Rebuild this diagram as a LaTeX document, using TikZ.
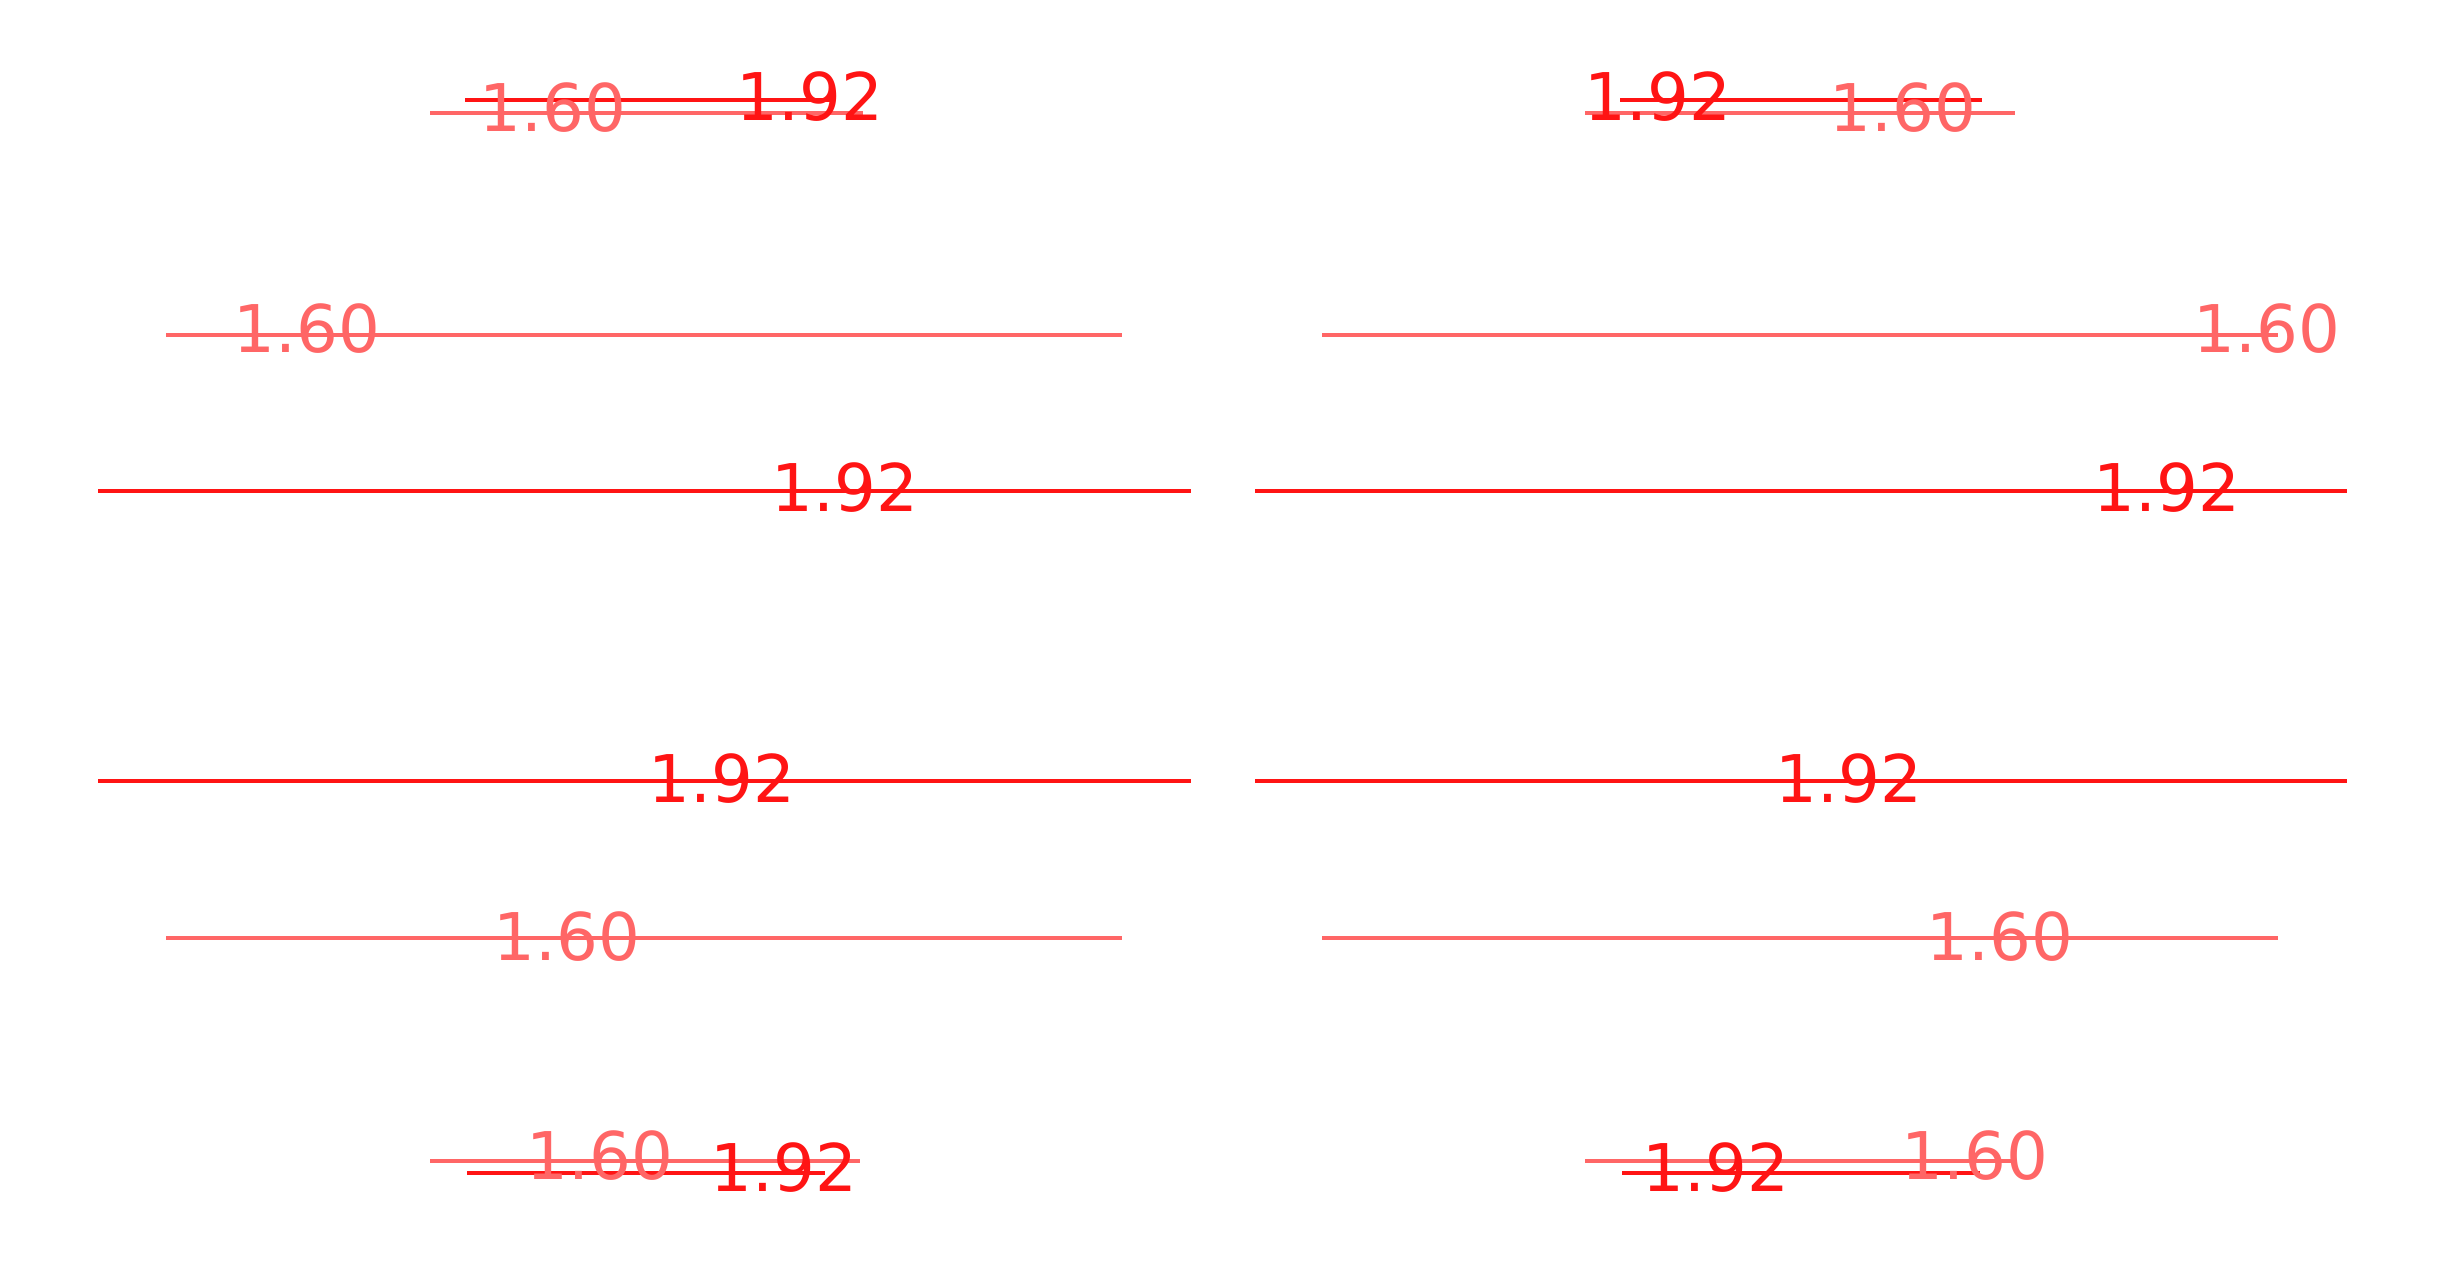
\documentclass[tikz,border=0pt]{standalone}
\usepackage{fontspec}
\setmainfont{DejaVu Sans}
\definecolor{darkred}{RGB}{255,20,20}
\definecolor{lightred}{RGB}{255,102,102}
\begin{document}
\begin{tikzpicture}[x=0.01cm,y=-0.01cm,
  darkline/.style={draw=darkred,line width=1pt},
  lightline/.style={draw=lightred,line width=1pt},
  darklabel/.style={text=darkred,inner sep=0pt,font=\fontsize{18.7}{20}\selectfont},
  lightlabel/.style={text=lightred,inner sep=0pt,font=\fontsize{18.7}{20}\selectfont}]
\useasboundingbox[fill=white] (0,0) rectangle (2444,1275);
% top row
\draw[lightline] (430,113) -- (863,113);
\draw[darkline] (465,100) -- (835,100);
\node[lightlabel] (tl1) at (553,108) {1.60};
\node[darklabel] (tl2) at (810,97) {1.92};
\draw[lightline] (1585,113) -- (2015,113);
\draw[darkline] (1620,100) -- (1982,100);
\node[darklabel] (tr2) at (1658,97) {1.92};
\node[lightlabel] (tr1) at (1903,108) {1.60};
% second row
\draw[lightline] (166,335) -- (1122,335);
\node[lightlabel] (l2) at (307,329) {1.60};
\draw[lightline] (1322,335) -- (2278,335);
\node[lightlabel] (r2) at (2267,329) {1.60};
% third row
\draw[darkline] (98,491) -- (1191,491);
\node[darklabel] (l3) at (845,488) {1.92};
\draw[darkline] (1255,491) -- (2347,491);
\node[darklabel] (r3) at (2167,488) {1.92};
% fourth row
\draw[darkline] (98,781) -- (1191,781);
\node[darklabel] (l4) at (722,779) {1.92};
\draw[darkline] (1255,781) -- (2347,781);
\node[darklabel] (r4) at (1849,779) {1.92};
% fifth row
\draw[lightline] (166,938) -- (1122,938);
\node[lightlabel] (l5) at (567,937) {1.60};
\draw[lightline] (1322,938) -- (2278,938);
\node[lightlabel] (r5) at (2000,937) {1.60};
% bottom row
\draw[lightline] (430,1161) -- (860,1161);
\draw[darkline] (467,1173) -- (825,1173);
\node[lightlabel] (bl1) at (600,1156) {1.60};
\node[darklabel] (bl2) at (784,1168) {1.92};
\draw[lightline] (1585,1161) -- (2013,1161);
\draw[darkline] (1622,1173) -- (1980,1173);
\node[darklabel] (br2) at (1716,1168) {1.92};
\node[lightlabel] (br1) at (1975,1156) {1.60};
\end{tikzpicture}
\end{document}
